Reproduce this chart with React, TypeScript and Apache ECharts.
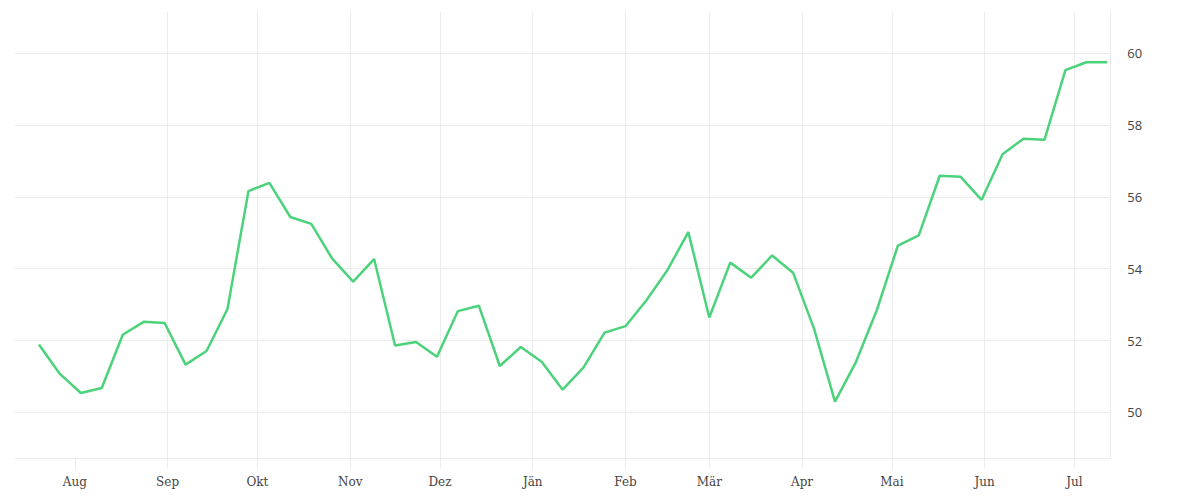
import React, { useEffect, useRef } from "react";
import * as echarts from "echarts";

const MONTHS = ["Jän", "Feb", "Mär", "Apr", "Mai", "Jun", "Jul", "Aug", "Sep", "Okt", "Nov", "Dez"];

const dates = [
  "2022-07-20", "2022-07-27", "2022-08-03", "2022-08-10", "2022-08-17", "2022-08-24", "2022-08-31",
  "2022-09-07", "2022-09-14", "2022-09-21", "2022-09-28", "2022-10-05", "2022-10-12", "2022-10-19",
  "2022-10-26", "2022-11-02", "2022-11-09", "2022-11-16", "2022-11-23", "2022-11-30", "2022-12-07",
  "2022-12-14", "2022-12-21", "2022-12-28", "2023-01-04", "2023-01-11", "2023-01-18", "2023-01-25",
  "2023-02-01", "2023-02-08", "2023-02-15", "2023-02-22", "2023-03-01", "2023-03-08", "2023-03-15",
  "2023-03-22", "2023-03-29", "2023-04-05", "2023-04-12", "2023-04-19", "2023-04-26", "2023-05-03",
  "2023-05-10", "2023-05-17", "2023-05-24", "2023-05-31", "2023-06-07", "2023-06-14", "2023-06-21",
  "2023-06-28", "2023-07-05", "2023-07-12",
];

const values = [
  51.89, 51.07, 50.54, 50.68, 52.16, 52.52, 52.49,
  51.33, 51.71, 52.88, 56.16, 56.39, 55.44, 55.25,
  54.28, 53.64, 54.27, 51.86, 51.96, 51.55, 52.82,
  52.97, 51.29, 51.82, 51.41, 50.63, 51.25, 52.22,
  52.4, 53.12, 53.96, 55.02, 52.64, 54.17, 53.75,
  54.37, 53.89, 52.33, 50.3, 51.4, 52.85, 54.64,
  54.93, 56.59, 56.56, 55.92, 57.19, 57.62, 57.59,
  59.53, 59.75, 59.75,
];

const xMin = "2022-07-12";
const xMax = "2023-07-13";
const yMin = 48.72;
const yMax = 61.15;

const GRID = "#ececec";
const NONE = "rgba(0,0,0,0)";
const xSplitColors = [NONE, ...Array(24).fill(GRID)];

export default function App() {
  const ref = useRef<HTMLDivElement>(null);

  useEffect(() => {
    if (!ref.current) return;
    const chart = echarts.init(ref.current, null, { renderer: "svg" });
    const DAY = 24 * 3600 * 1000;
    chart.setOption({
      animation: false,
      backgroundColor: "#ffffff",
      grid: { left: 15, right: 89.7, top: 12, bottom: 41.7, containLabel: false },
      xAxis: {
        type: "time",
        min: xMin,
        max: xMax,
        minInterval: 28 * DAY,
        maxInterval: 31 * DAY,
        axisLine: { show: true, lineStyle: { color: GRID, width: 1 } },
        axisTick: { show: true, length: 10, lineStyle: { color: GRID, width: 1 } },
        splitLine: { show: true, showMinLine: false, lineStyle: { color: xSplitColors, width: 1 } },
        axisLabel: {
          margin: 18,
          color: "#444",
          fontFamily: "DejaVu Serif",
          fontSize: 12,
          showMinLabel: false,
          showMaxLabel: false,
          formatter: (v: number) => MONTHS[new Date(v).getMonth()],
        },
      },
      yAxis: {
        type: "value",
        position: "right",
        min: yMin,
        max: yMax,
        axisLine: { show: true, lineStyle: { color: GRID, width: 1 } },
        axisTick: { show: false },
        splitLine: { show: true, showMaxLine: false, lineStyle: { color: GRID, width: 1 } },
        axisLabel: {
          margin: 17,
          color: "#444",
          fontFamily: "Open Sans",
          fontSize: 13,
          padding: [3, 0, 0, 0],
          showMinLabel: false,
          showMaxLabel: false,
        },
      },
      series: [
        {
          type: "line",
          data: dates.map((d, i) => [d, values[i]]),
          showSymbol: false,
          symbol: "none",
          lineStyle: { color: "#4bd27b", width: 2.5 },
          itemStyle: { color: "#4bd27b" },
        },
      ],
    });
    return () => chart.dispose();
  }, []);

  return (
    <div
      ref={ref}
      style={{ position: "fixed", left: 0, top: 0, width: 1200, height: 500 }}
    />
  );
}
